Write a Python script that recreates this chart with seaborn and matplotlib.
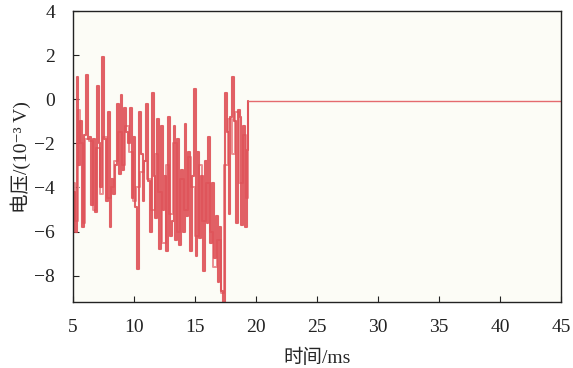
import numpy as np
import pandas as pd
import matplotlib
matplotlib.use("Agg")
import matplotlib.pyplot as plt
import seaborn as sns

# ---- data (time in ms, voltage in 1e-3 V) ----
t_dark = [5.0, 5.15, 5.3, 5.45, 5.6, 5.75, 5.9, 6.05, 6.2, 6.35, 6.5, 6.65, 6.8, 6.95,
          7.1, 7.25, 7.4, 7.55, 7.7, 7.85, 8.0, 8.15, 8.3, 8.45, 8.6, 8.75, 8.9, 9.05,
          9.2, 9.35, 9.5, 9.65, 9.8, 9.95, 10.1, 10.25, 10.4, 10.55, 10.7, 10.85, 11.0,
          11.15, 11.3, 11.45, 11.6, 11.75, 11.9, 12.05, 12.2, 12.35, 12.5, 12.65, 12.8,
          12.95, 13.1, 13.25, 13.4, 13.55, 13.7, 13.85, 14.0, 14.15, 14.3, 14.45, 14.6,
          14.75, 14.9, 15.05, 15.2, 15.35, 15.5, 15.65, 15.8, 15.95, 16.1, 16.25, 16.4,
          16.55, 16.7, 16.85, 17.0, 17.15, 17.3, 17.45, 17.6, 17.75, 17.9, 18.05, 18.2,
          18.35, 18.5, 18.65, 18.8, 18.95, 19.1, 19.25, 19.37]
v_dark = [-4.2, -6.0, 1.0, -3.0, -1.0, -5.8, -1.6, 1.1, -1.8, -1.7, -4.8, -1.8, -5.1, 0.6,
          -2.0, -4.0, 1.9, -1.8, -4.6, -0.6, -5.8, -3.6, -4.3, -3.0, -0.2, -3.4, 0.2, -3.2,
          -0.4, -1.5, -2.0, -0.4, -4.5, -1.7, -4.9, -7.7, -0.6, -2.5, -4.6, -2.8, -0.2,
          -3.7, -6.0, 0.3, -3.5, -5.4, -0.9, -6.8, -1.2, -5.0, -3.5, -6.9, -0.8,
          -6.2, -5.5, -1.2, -6.4, -1.8, -6.6, -3.2, -6.0, -1.1, -5.3, -2.4, -6.9,
          -3.5, 0.45, -7.1, -2.4, -6.3, -3.5, -7.8, -2.8, -5.6, -1.7, -6.5, -3.8,
          -7.2, -5.3, -8.3, -5.8, -8.7, -9.3, 0.3, -1.5, -5.2, -0.8, 1.0, -1.0,
          -5.6, -0.5, -0.8, -5.7, -1.2, -5.8, -2.3, -0.08]

t_light = [5.0, 5.2, 5.4, 5.6, 5.8, 6.0, 6.3, 6.6, 6.9, 7.2, 7.5, 7.8, 8.1, 8.4, 8.7,
           9.0, 9.3, 9.6, 9.9, 10.2, 10.5, 10.8, 11.1, 11.4, 11.7, 12.0, 12.3, 12.6,
           12.9, 13.2, 13.5, 13.8, 14.1, 14.4, 14.7, 15.0, 15.3, 15.6, 15.9, 16.2,
           16.5, 16.8, 17.1, 17.4, 17.7, 18.0, 18.3, 18.6, 18.9, 19.2, 19.37]
v_light = [-3.8, -5.5, -0.5, -2.0, -5.6, -1.8, -1.9, -5.0, -2.2, -4.3, -1.7, -4.5, -4.0,
           -2.8, -1.5, -3.0, -1.2, -2.4, -4.6, -4.0, -3.3, -2.8, -3.6, -5.0, -2.5,
           -4.2, -6.5, -3.0, -5.2, -2.0, -6.0, -3.6, -5.0, -2.6, -4.0, -6.2, -3.0,
           -5.5, -3.8, -6.0, -7.6, -6.4, -8.8, -3.0, -0.9, -2.5, -0.6, -3.8, -1.6,
           -4.5, -0.08]

t_flat = [19.37, 45.0]
v_flat = [-0.08, -0.08]

x_ticks = [5, 10, 15, 20, 25, 30, 35, 40, 45]
y_ticks = [-8, -6, -4, -2, 0, 2, 4]

df_dark = pd.DataFrame({"t": t_dark, "v": v_dark})
df_light = pd.DataFrame({"t": t_light, "v": v_light})
df_flat = pd.DataFrame({"t": t_flat, "v": v_flat})

sns.set_theme(style="ticks")
plt.rcParams["font.family"] = ["Liberation Serif", "DejaVu Serif", "Noto Sans CJK SC"]

fig = plt.figure(figsize=(5.73, 3.68), dpi=100)
ax = fig.add_axes([0.1274, 0.179, 0.8516, 0.791])
ax.set_facecolor("#fcfcf6")

sns.lineplot(data=df_light, x="t", y="v", ax=ax, color="#eb9093", linewidth=1.4,
             drawstyle="steps-post", estimator=None, sort=False)
sns.lineplot(data=df_dark, x="t", y="v", ax=ax, color="#de4f55", linewidth=1.5,
             drawstyle="steps-post", estimator=None, sort=False, alpha=0.9)
sns.lineplot(data=df_flat, x="t", y="v", ax=ax, color="#e46a6e", linewidth=1.0,
             estimator=None, sort=False)

ax.set_xlim(5, 45)
ax.set_ylim(-9.2, 4)
ax.set_xticks(x_ticks)
ax.set_yticks(y_ticks)
ax.set_xticklabels([str(v) for v in x_ticks])
ax.set_yticklabels([str(v).replace("-", "\u2212") for v in y_ticks])
ax.tick_params(direction="in", length=4, width=0.8, labelsize=14, colors="#222222")
ax.tick_params(axis="x", pad=12)
ax.tick_params(axis="y", pad=13)
for s in ax.spines.values():
    s.set_linewidth(1.0)
    s.set_color("#222222")

ax.set_xlabel("时间/ms", fontsize=14, labelpad=9)
ax.set_ylabel("电压/(10\u207b\u00b3 V)", fontsize=14, labelpad=2)

fig.savefig("out.png", dpi=100)
